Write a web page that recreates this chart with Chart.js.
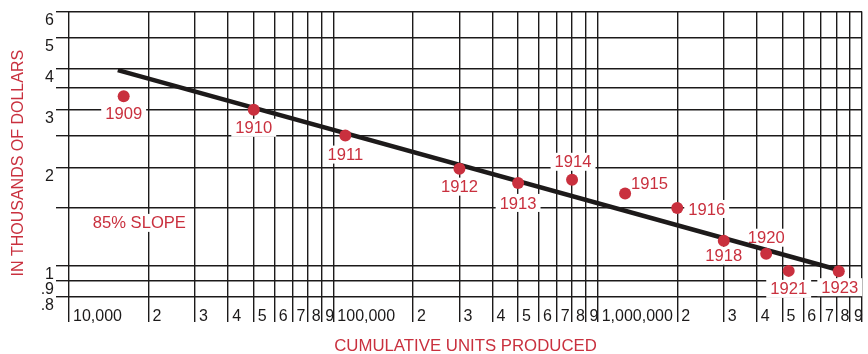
<!DOCTYPE html>
<html>
<head>
<meta charset="utf-8">
<script src="https://cdn.jsdelivr.net/npm/chart.js@4.4.1/dist/chart.umd.min.js"></script>
<style>
  html, body { margin: 0; padding: 0; background: #fff; }
  #wrap { width: 868px; height: 354px; }
</style>
</head>
<body>
<div id="wrap"><canvas id="learningCurve" width="868" height="354"></canvas></div>
<script>
// data
const years = ["1909", "1910", "1911", "1912", "1913", "1914", "1915", "1916", "1918", "1920", "1921", "1923"];
const unitsProduced = [16100, 50000, 111000, 300000, 500000, 800000, 1270000, 2000000, 3000000, 4340000, 5280000, 8170000];
const unitCost = [3.3, 3.0, 2.5, 1.98, 1.79, 1.83, 1.66, 1.5, 1.19, 1.086, 0.962, 0.96];

// fitted 85% line, end points
const trendUnits = [15300, 8100000];
const trendCost = [3.97, 0.97];

// axis ticks
const xTickValues = [
  10000, 20000, 30000, 40000, 50000, 60000, 70000, 80000, 90000,
  100000, 200000, 300000, 400000, 500000, 600000, 700000, 800000, 900000,
  1000000, 2000000, 3000000, 4000000, 5000000, 6000000, 7000000, 8000000, 9000000,
  10000000,
];
const xTickLabels = [
  "10,000", "2", "3", "4", "5", "6", "7", "8", "9",
  "100,000", "2", "3", "4", "5", "6", "7", "8", "9",
  "1,000,000", "2", "3", "4", "5", "6", "7", "8", "9",
  "",
];
const yTickValues = [0.8, 0.9, 1, 1.5, 2, 2.5, 3, 3.5, 4, 5, 6];
const yTickLabels = [".8", ".9", "1", "", "2", "", "3", "", "4", "5", "6"];

const RED = "#c9303e";
const INK = "#1c1a1a";
const FONT = "'Liberation Sans', Arial, Helvetica, sans-serif";

// where each year label sits relative to its dot (px)
const labelPlace = [
  { dx: 0, dy: 17, align: "center" },
  { dx: 0, dy: 18, align: "center" },
  { dx: 0, dy: 19, align: "center" },
  { dx: 0, dy: 18, align: "center" },
  { dx: 0, dy: 20, align: "center" },
  { dx: 1, dy: -18, align: "center" },
  { dx: 6, dy: -10, align: "left" },
  { dx: 11, dy: 1, align: "left" },
  { dx: 0, dy: 15, align: "center" },
  { dx: 0, dy: -16, align: "center" },
  { dx: 0, dy: 18, align: "center" },
  { dx: 1, dy: 16, align: "center" },
];

function boxedText(ctx, text, x, y, align) {
  ctx.font = "16.6px " + FONT;
  const w = ctx.measureText(text).width;
  const left = align === "left" ? x : x - w / 2;
  ctx.fillStyle = "#fff";
  ctx.fillRect(left - 4, y - 9, w + 8, 18);
  ctx.fillStyle = RED;
  ctx.textAlign = "left";
  ctx.textBaseline = "middle";
  ctx.fillText(text, left, y + 1);
}

const yearLabels = {
  id: "yearLabels",
  beforeDatasetsDraw(chart) {
    const { ctx, scales } = chart;
    ctx.save();
    years.forEach((yr, i) => {
      const px = scales.x.getPixelForValue(unitsProduced[i]);
      const py = scales.y.getPixelForValue(unitCost[i]);
      const p = labelPlace[i];
      boxedText(ctx, yr, px + p.dx, py + p.dy, p.align);
    });
    // slope note
    boxedText(ctx, "85% SLOPE", scales.x.getPixelForValue(12300), scales.y.getPixelForValue(1.35), "left");
    ctx.restore();
  },
};

const ctx = document.getElementById("learningCurve").getContext("2d");

new Chart(ctx, {
  type: "scatter",
  data: {
    datasets: [
      {
        type: "line",
        data: trendUnits.map((u, i) => ({ x: u, y: trendCost[i] })),
        borderColor: "#1d1a1a",
        borderWidth: 4.5,
        pointRadius: 0,
        order: 2,
      },
      {
        data: unitsProduced.map((u, i) => ({ x: u, y: unitCost[i] })),
        backgroundColor: RED,
        borderWidth: 0,
        pointRadius: 6,
        order: 1,
      },
    ],
  },
  options: {
    responsive: false,
    animation: false,
    devicePixelRatio: 1,
    layout: { padding: { top: 11, right: 1, left: 0, bottom: 0 } },
    plugins: {
      legend: { display: false },
      tooltip: { enabled: false },
    },
    scales: {
      x: {
        type: "logarithmic",
        position: "bottom",
        min: 10000,
        max: 10000000,
        afterBuildTicks: (s) => { s.ticks = xTickValues.map((v) => ({ value: v })); },
        afterFit: (s) => { s.height = 57; },
        ticks: {
          autoSkip: false,
          maxRotation: 0,
          align: "start",
          labelOffset: 4,
          padding: -15,
          color: INK,
          font: { family: FONT, size: 16 },
          callback: (v, i) => xTickLabels[i],
        },
        grid: { color: INK, lineWidth: 1.4, tickLength: 25 },
        border: { display: false },
        title: {
          display: true,
          text: "CUMULATIVE UNITS PRODUCED",
          color: RED,
          font: { family: FONT, size: 16.8 },
          padding: { top: 0, bottom: -2 },
        },
      },
      y: {
        type: "logarithmic",
        min: 0.8,
        max: 6,
        afterBuildTicks: (s) => { s.ticks = yTickValues.map((v) => ({ value: v })); },
        afterFit: (s) => { s.width = 69; },
        ticks: {
          autoSkip: false,
          labelOffset: 9,
          padding: 2,
          color: INK,
          font: { family: FONT, size: 16 },
          callback: (v, i) => yTickLabels[i],
        },
        grid: { color: INK, lineWidth: 1.4, tickLength: 13 },
        border: { display: false },
        title: {
          display: true,
          // trailing spaces nudge the rotated title down a little
          text: "IN THOUSANDS OF DOLLARS    ",
          color: RED,
          font: { family: FONT, size: 16 },
          padding: { top: 9, bottom: 0 },
        },
      },
    },
  },
  plugins: [yearLabels],
});
</script>
</body>
</html>
